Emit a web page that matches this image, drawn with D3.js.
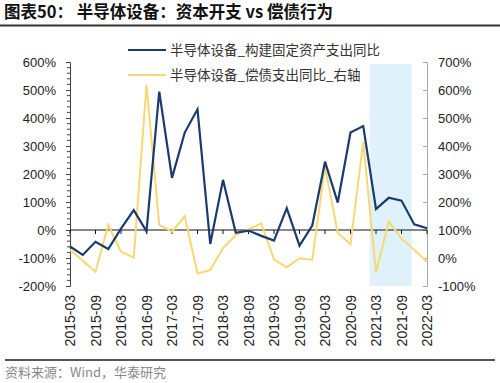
<!DOCTYPE html>
<html><head><meta charset="utf-8">
<script src="https://cdn.jsdelivr.net/npm/d3@7/dist/d3.min.js"></script>
<style>
body{margin:0;background:#fff;}
svg{display:block;}
</style></head>
<body>
<svg id="c" width="500" height="383"></svg>
<script>
const quarters = ["2015-03","2015-06","2015-09","2015-12","2016-03","2016-06","2016-09","2016-12",
"2017-03","2017-06","2017-09","2017-12","2018-03","2018-06","2018-09","2018-12",
"2019-03","2019-06","2019-09","2019-12","2020-03","2020-06","2020-09","2020-12",
"2021-03","2021-06","2021-09","2021-12","2022-03"];
const capexYoY = [-59,-89,-42,-68,5,71,-5,494,186,348,431,-50,179,-10,-2,-21,-38,78,-56,16,244,98,348,371,75,115,105,20,6];
const debtYoY = [29,-10,-49,118,22,2,618,118,94,149,-55,-43,35,82,102,124,-5,-33,-1,-7,326,90,49,415,-51,130,70,29,-13];
const leftTicks = [-200,-100,0,100,200,300,400,500,600];
const rightTicks = [-100,0,100,200,300,400,500,600,700];
const xTickLabels = quarters.filter((d,i)=>i%2===0);
const seriesNames = ["半导体设备_构建固定资产支出同比","半导体设备_偿债支出同比_右轴"];
const shadeRange = ["2020-12","2021-12"];
const title = "图表50：  半导体设备：资本开支 vs 偿债行为";
const source = "资料来源：Wind，华泰研究";

const svg = d3.select("#c");
const L=70, R=427, T=62, B=286;
const x = d3.scalePoint().domain(quarters).range([L,R]);
const yL = d3.scaleLinear().domain([-200,600]).range([B,T]);
const yR = d3.scaleLinear().domain([-100,700]).range([B,T]);
const step = x.step();

// title
svg.append("text").attr("x",4).attr("y",18).text(title)
  .attr("font-family","'Noto Sans CJK SC'").attr("font-weight","bold").attr("font-size",16.5).attr("fill","#111");
svg.append("line").attr("x1",0).attr("x2",500).attr("y1",25.5).attr("y2",25.5).attr("stroke","#333").attr("stroke-width",2);

// shade
svg.append("rect").attr("x",x(shadeRange[0])+step*0.5).attr("y",64)
  .attr("width",x(shadeRange[1])-x(shadeRange[0])-step*0.7).attr("height",B-64)
  .attr("fill","#dff1fb");

// left axis
const la = svg.append("g").attr("transform",`translate(${L},0)`)
  .call(d3.axisLeft(yL).tickValues(leftTicks).tickFormat(d=>d+"%").tickSize(4).tickPadding(10));
la.select(".domain").attr("stroke","#444");
la.selectAll(".tick line").attr("stroke","#444");
la.selectAll("text").attr("font-family","'Liberation Sans',Arial").attr("font-size",13).attr("fill","#222");
const minor = d3.range(-200,601,20).filter(v=>v%100!==0);
svg.append("g").selectAll("line").data(minor).join("line")
  .attr("x1",L-3).attr("x2",L).attr("y1",d=>yL(d)).attr("y2",d=>yL(d)).attr("stroke","#444");

// right axis
const ra = svg.append("g").attr("transform",`translate(${R},0)`)
  .call(d3.axisRight(yR).tickValues(rightTicks).tickFormat(d=>d+"%").tickSize(-4).tickPadding(11));
ra.select(".domain").attr("stroke","#aaa");
ra.selectAll(".tick line").attr("stroke","#aaa");
ra.selectAll("text").attr("font-family","'Liberation Sans',Arial").attr("font-size",13).attr("fill","#222");

// zero line with ticks
svg.append("line").attr("x1",L).attr("x2",R).attr("y1",yL(0)).attr("y2",yL(0)).attr("stroke","#111").attr("stroke-width",1);
svg.append("g").selectAll("line").data(xTickLabels).join("line")
  .attr("x1",d=>x(d)).attr("x2",d=>x(d)).attr("y1",yL(0)).attr("y2",yL(0)+4).attr("stroke","#111");

// x labels
svg.append("g").selectAll("text").data(xTickLabels).join("text")
  .attr("transform",d=>`translate(${x(d)+5},295) rotate(-90)`)
  .attr("text-anchor","end").text(d=>d)
  .attr("font-family","'Liberation Sans',Arial").attr("font-size",14).attr("fill","#222");

// lines
const lineL = d3.line().x((d,i)=>x(quarters[i])).y(d=>yL(d));
const lineR = d3.line().x((d,i)=>x(quarters[i])).y(d=>yR(d));
svg.append("path").datum(debtYoY).attr("d",lineR).attr("fill","none").attr("stroke","#f7d873").attr("stroke-width",2).attr("stroke-linejoin","miter");
svg.append("path").datum(capexYoY).attr("d",lineL).attr("fill","none").attr("stroke","#1b3a6e").attr("stroke-width",2.2).attr("stroke-linejoin","miter");

// legend
const lg = svg.append("g");
const colors = ["#1b3a6e","#f7d873"];
seriesNames.forEach((n,i)=>{
  const yy = 50 + i*25;
  lg.append("line").attr("x1",128).attr("x2",166).attr("y1",yy).attr("y2",yy).attr("stroke",colors[i]).attr("stroke-width",2.2);
  lg.append("text").attr("x",170).attr("y",yy+5).text(n)
    .attr("font-family","'Noto Sans CJK SC'").attr("font-size",13.5).attr("fill","#333");
});

// footer
svg.append("line").attr("x1",5).attr("x2",495).attr("y1",360).attr("y2",360).attr("stroke","#555").attr("stroke-width",2);
svg.append("text").attr("x",5).attr("y",377).text(source)
  .attr("font-family","'Noto Sans CJK SC'").attr("font-size",13).attr("fill","#888");
</script>
</body></html>
